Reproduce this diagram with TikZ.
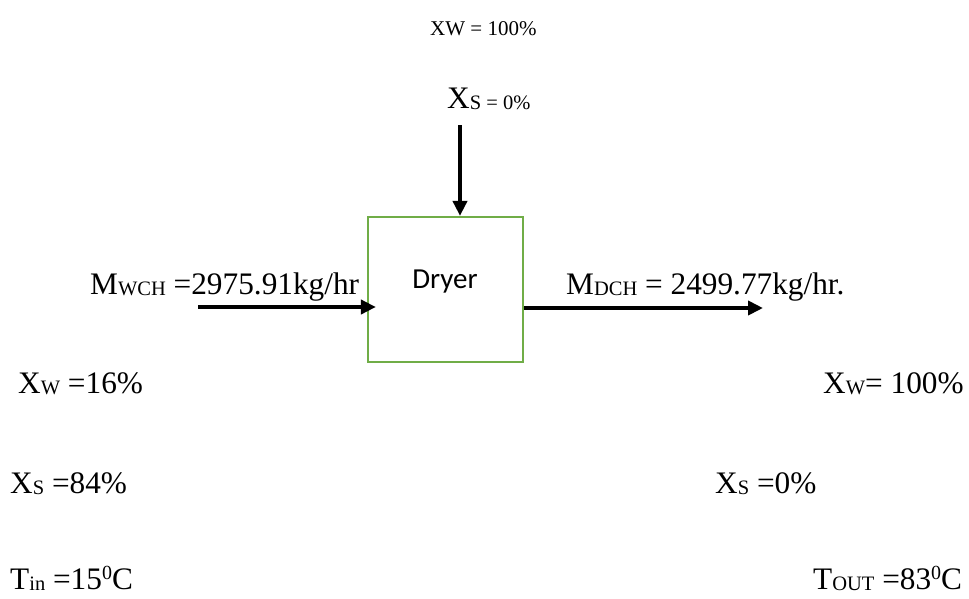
\documentclass[tikz,border=0pt]{standalone}
\usepackage{fontspec}
\setmainfont{Liberation Serif}
\newfontfamily\dryerfont{Carlito}
\usetikzlibrary{arrows.meta}
\definecolor{dryergreen}{HTML}{70AD47}
\newcommand{\sbs}[1]{\raisebox{-1.5pt}{\fontsize{20.5}{21}\selectfont #1}}
\newcommand{\sps}[1]{\raisebox{10pt}{\fontsize{20}{20}\selectfont #1}}
\tikzset{
  lbl/.style={anchor=base west, inner sep=0pt, font=\fontsize{31.3}{36}\selectfont},
  smalllbl/.style={anchor=base west, inner sep=0pt, font=\fontsize{21}{24}\selectfont},
  flow/.style={line width=3.8pt, -{Triangle[length=15pt,width=14pt]}},
  unit/.style={draw=dryergreen, line width=2.2pt, minimum width=155pt, minimum height=145pt, inner sep=0pt}
}
\begin{document}
\begin{tikzpicture}[x=1pt,y=-1pt]
\useasboundingbox (0,0) rectangle (969,598);
% unit
\node[unit] (dryer) at (445.5,289.5) {};
\node[anchor=base, inner sep=0pt, font=\dryerfont\fontsize{29}{32}\selectfont] (dryerlabel) at (445,288) {Dryer};
% top stream
\node[smalllbl] (topxw) at (430,35) {XW = 100\%};
\node[lbl] (topxs) at (447,108) {X\sbs{S = 0\%}};
\coordinate (topS) at (460,125);
\draw[flow] (topS) -- (topS |- dryer.north);
% inlet stream
\node[lbl] (mwch) at (90,294) {M\sbs{WCH} =2975.91kg/hr};
\coordinate (inL) at (198,307);
\draw[flow, shorten >=-9pt] (inL) -- (inL -| dryer.west);
\node[lbl] (inxw) at (18,393) {X\sbs{W} =16\%};
\node[lbl] (inxs) at (10,493) {X\sbs{S} =84\%};
\node[lbl] (intin) at (10,589) {T\sbs{in} =15\sps{0}C};
% outlet stream
\node[lbl] (mdch) at (566,294) {M\sbs{DCH} = 2499.77kg/hr.};
\coordinate (outR) at (763,308);
\draw[flow] (outR -| dryer.east) -- (outR);
\node[lbl] (outxw) at (823,393) {X\sbs{W}= 100\%};
\node[lbl] (outxs) at (715,493) {X\sbs{S} =0\%};
\node[lbl] (outt) at (813,589) {T\sbs{OUT} =83\sps{0}C};
\end{tikzpicture}
\end{document}
